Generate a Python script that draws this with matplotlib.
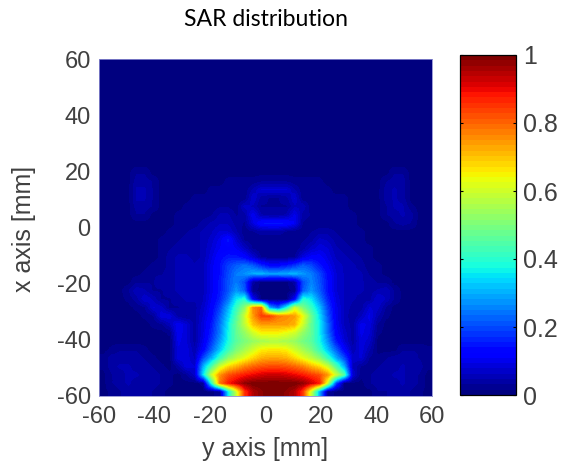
import numpy as np
import matplotlib
matplotlib.use('Agg')
import matplotlib.pyplot as plt

TITLE = 'SAR distribution'
X_TICKS = [-60, -40, -20, 0, 20, 40, 60]
Y_TICKS = [-60, -40, -20, 0, 20, 40, 60]
BAR_TICKS = [0, 0.2, 0.4, 0.6, 0.8, 1]
BAR_LABELS = ['0', '0.2', '0.4', '0.6', '0.8', '1']

sar_top = [
    [1]*40, [1]*40, [1]*40, [1]*40, [1]*40, [1]*40, [1]*40,
    [1]*40, [1]*40, [1]*40, [1]*40, [1]*40, [1]*40,
    [1,1,1,1,3,3,1,1,1,1,1,1,1,1,1,1,1,1,1,1,1,1,1,1,1,1,1,1,1,1,1,1,1,1,1,3,3,1,1,1],
    [1,1,1,1,4,4,3,1,1,1,1,1,1,1,1,2,2,2,2,3,3,3,3,2,2,2,2,1,1,1,1,1,1,1,3,4,4,1,1,1],
    [1,1,1,1,5,5,3,1,1,1,1,1,1,2,2,2,2,2,5,8,8,8,8,5,2,2,2,2,1,1,1,1,1,1,4,5,4,1,1,1],
    [1,1,1,1,5,5,3,1,1,1,1,2,2,2,3,3,2,2,8,4,3,3,4,8,2,2,2,2,2,2,1,1,1,1,4,5,4,1,1,1],
    [1,1,1,1,4,4,3,1,1,1,2,2,2,2,3,3,2,7,6,3,3,3,3,6,6,2,2,2,2,2,1,1,1,1,3,5,5,2,1,1],
    [1,1,1,1,3,3,1,1,1,2,2,2,2,3,5,5,3,4,11,5,4,4,5,10,4,3,2,2,2,2,2,1,1,1,3,4,5,4,1,1],
    [1,1,1,1,1,1,1,1,1,2,2,2,4,5,6,6,4,3,9,14,15,15,14,11,3,2,2,2,2,2,2,1,1,1,1,3,4,3,1,1],
    [1,1,1,1,1,1,1,1,2,2,3,4,5,6,8,8,5,2,3,4,4,4,3,2,2,3,4,4,3,2,2,2,1,1,1,1,1,1,1,1],
    [1,1,1,1,1,1,1,2,2,3,4,4,5,7,10,15,8,3,2,2,2,2,2,2,3,4,7,6,4,3,2,2,1,1,1,1,1,1,1,1],
    [1,1,1,1,1,1,1,2,3,4,4,4,5,8,11,12,11,7,3,2,2,2,2,2,4,7,9,8,5,4,3,2,2,1,1,1,1,1,1,1],
    [1,1,1,1,1,1,1,2,4,5,5,4,5,9,13,15,15,13,8,3,2,2,2,3,9,12,12,9,6,5,4,3,2,1,1,1,1,1,1,1],
    [1,1,1,1,1,1,2,2,4,5,6,5,6,10,14,19,22,24,22,17,13,13,15,18,22,20,15,11,7,6,5,4,2,2,1,1,1,1,1,1],
    [1,1,1,1,1,2,3,3,4,5,6,5,6,10,14,20,25,27,30,31,29,29,30,31,28,25,20,13,8,6,5,5,3,2,1,1,1,1,1,1],
]
sar_bottom = [
    [1,1,1,1,3,3,3,4,4,5,6,5,6,10,15,21,25,20,4,1,1,1,1,4,20,26,21,14,8,6,5,5,4,3,3,1,1,1,1,1],
    [1,1,1,3,6,5,3,3,4,5,6,6,6,10,15,21,28,22,2,1,1,1,1,2,22,28,22,14,8,6,5,5,4,5,6,3,1,1,1,1],
    [1,1,1,2,4,8,6,3,3,4,5,5,6,11,16,24,36,40,12,1,1,1,1,12,40,36,26,16,9,6,5,4,4,8,6,3,1,1,1,1],
    [1,1,1,1,2,3,8,7,3,3,4,4,7,12,19,30,42,52,76,80,30,22,38,60,50,42,32,19,10,6,4,4,8,7,3,1,1,1,1,1],
    [1,1,1,1,1,2,3,9,9,4,3,4,8,13,22,33,45,60,74,84,84,78,76,74,64,48,35,21,10,6,3,6,10,5,2,1,1,1,1,1],
    [1,1,1,1,1,1,2,3,6,11,8,4,9,15,24,36,48,58,70,74,74,74,74,72,60,47,37,23,11,6,4,10,9,3,1,1,1,1,1,1],
    [1,1,1,1,1,1,1,1,2,11,8,4,9,16,25,37,47,53,60,65,65,65,63,60,53,47,37,24,12,7,4,10,8,2,1,1,1,1,1,1],
    [1,1,1,1,1,1,1,1,1,10,8,4,10,18,28,38,46,50,53,55,56,56,55,53,49,46,38,27,15,8,4,9,7,1,1,1,1,1,1,1],
    [1,2,3,3,3,2,1,1,1,9,9,5,12,22,32,42,50,55,60,65,66,66,65,60,55,50,42,32,22,12,5,9,5,1,1,1,3,3,3,2],
    [2,4,4,4,4,3,2,1,1,9,9,6,20,30,42,52,58,63,68,72,73,73,72,68,63,58,52,42,30,20,7,8,3,2,3,4,4,4,3,2],
    [2,4,5,5,4,4,3,2,1,4,9,8,30,45,60,68,72,77,80,82,83,83,82,80,77,72,68,60,45,30,6,3,2,3,4,4,5,4,4,2],
    [1,3,4,5,5,4,4,3,2,1,3,7,35,60,75,82,85,88,90,92,93,93,92,90,88,85,82,75,60,45,8,2,3,4,4,5,5,4,3,1],
    [1,3,4,5,4,4,4,3,2,1,1,1,2,40,78,88,93,98,100,100,100,100,100,100,98,93,88,60,20,1,1,1,3,4,4,4,5,4,3,1],
    [1,2,3,4,4,4,3,2,1,1,1,1,1,1,3,35,60,85,95,98,100,100,98,95,85,60,30,3,1,1,1,1,1,3,3,4,4,3,2,1],
]

sar = np.array(sar_top + sar_bottom) / 100.0

plt.rcParams['font.family'] = ['Liberation Sans', 'DejaVu Sans']
plt.rcParams['axes.unicode_minus'] = False

fig = plt.figure(figsize=(5.64, 4.65), dpi=100)
W, H = 564.0, 465.0
text_col = '#404040'

ax = fig.add_axes([99 / W, 1 - 396 / H, 333 / W, 337 / H])
im = ax.imshow(sar, cmap=plt.get_cmap('jet', 64), vmin=0, vmax=1, extent=[-60, 60, -60, 60],
               aspect='auto', interpolation='bilinear', origin='upper')
ax.set_xticks(X_TICKS)
ax.set_yticks(Y_TICKS)
ax.tick_params(length=0, labelsize=17, labelcolor=text_col, pad=6)
ax.tick_params(axis='x', pad=7)
ax.set_xlabel('y axis [mm]', fontsize=18, color=text_col, labelpad=7)
ax.set_ylabel('x axis [mm]', fontsize=18, color=text_col)
ax.yaxis.set_label_coords((36 - 99) / 333, 0.495)
for s in ax.spines.values():
    s.set_color('#8a8ad0')
    s.set_linewidth(0.6)

fig.text(265.5 / W, 1 - 20 / H, TITLE, ha='center', va='center', fontsize=16.6,
         family=['Lato', 'DejaVu Sans'], color='black')

cax = fig.add_axes([460 / W, 1 - 395 / H, 56 / W, 340 / H])
cb = fig.colorbar(im, cax=cax, ticks=BAR_TICKS)
cb.ax.set_yticklabels(BAR_LABELS)
cb.ax.tick_params(direction='in', length=2, width=0.8, labelsize=18, labelcolor=text_col,
                  left=True, right=True, pad=5)
cb.outline.set_linewidth(0.9)

fig.savefig('out.png', dpi=100)
